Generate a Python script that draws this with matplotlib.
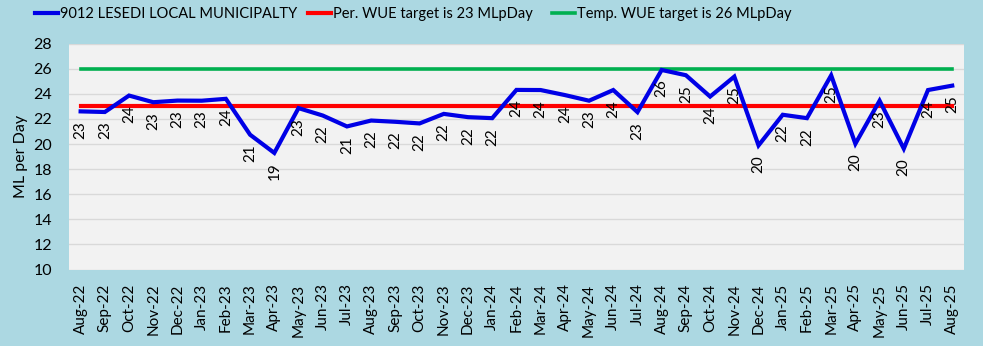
#! /usr/bin/env python3
import matplotlib
matplotlib.use("Agg")
import matplotlib.pyplot as plt

plt.rcParams["font.family"] = ["Lato", "DejaVu Sans"]

# Meses (Aug-22 a Aug-25) y consumo en ML por día
months = ["Aug-22", "Sep-22", "Oct-22", "Nov-22", "Dec-22", "Jan-23", "Feb-23",
          "Mar-23", "Apr-23", "May-23", "Jun-23", "Jul-23", "Aug-23", "Sep-23",
          "Oct-23", "Nov-23", "Dec-23", "Jan-24", "Feb-24", "Mar-24", "Apr-24",
          "May-24", "Jun-24", "Jul-24", "Aug-24", "Sep-24", "Oct-24", "Nov-24",
          "Dec-24", "Jan-25", "Feb-25", "Mar-25", "Apr-25", "May-25", "Jun-25",
          "Jul-25", "Aug-25"]
lesedi = [22.6, 22.55, 23.86, 23.33, 23.46, 23.45, 23.6, 20.74, 19.29, 22.86,
          22.27, 21.4, 21.87, 21.77, 21.64, 22.4, 22.14, 22.06, 24.31, 24.3,
          23.9, 23.45, 24.3, 22.54, 25.9, 25.48, 23.78, 25.37, 19.89, 22.33,
          22.06, 25.47, 20.02, 23.45, 19.63, 24.3, 24.65]
per_target = 23
temp_target = 26

W, H = 983, 346
bg = "#acd8e2"
fig = plt.figure(figsize=(W / 100, H / 100), dpi=100, facecolor=bg)
ax = fig.add_axes([0.0697, 0.221, 0.9113, 0.653])
ax.set_facecolor("#f2f2f2")

x = list(range(len(months)))
l1, = ax.plot(x, lesedi, color="#0000e6", lw=3, solid_joinstyle="miter",
              label="9012 LESEDI LOCAL MUNICIPALTY", zorder=4)
l2, = ax.plot(x, [per_target] * len(x), color="#ff0000", lw=3,
              label="Per. WUE target is 23 MLpDay", zorder=3)
l3, = ax.plot(x, [temp_target] * len(x), color="#00b050", lw=2.6,
              label="Temp. WUE target is 26 MLpDay", zorder=3)

# etiquetas de datos debajo de cada punto
for xi, v in zip(x, lesedi):
    ax.annotate(f"{v:.0f}", (xi, v), xytext=(0, -7), textcoords="offset points",
                rotation=90, ha="center", va="top", fontsize=11, zorder=5)

ax.set_xlim(-0.5, len(months) - 0.5)
ax.set_ylim(10, 28)
ax.set_yticks(range(10, 29, 2))
ax.set_xticks(x)
ax.set_xticklabels(months, rotation=90, fontsize=11)
ax.tick_params(axis="y", labelsize=11.5, length=0, pad=12)
ax.tick_params(axis="x", length=0, pad=10)
ax.grid(axis="y", color="#d9d9d9", lw=1)
ax.set_axisbelow(True)
for s in ax.spines.values():
    s.set_visible(False)
ax.set_ylabel("ML per Day", fontsize=11.5, labelpad=4)

# una leyenda por serie, colocadas como en el original
for line, xpx in [(l1, 35), (l2, 308), (l3, 552)]:
    fig.legend(handles=[line], loc="center left",
               bbox_to_anchor=(xpx / W, 1 - 14 / H), frameon=False,
               borderpad=0, borderaxespad=0, handlelength=1.6,
               handletextpad=0.1, fontsize=10.5)

fig.savefig("out.png", dpi=100, facecolor=bg)
